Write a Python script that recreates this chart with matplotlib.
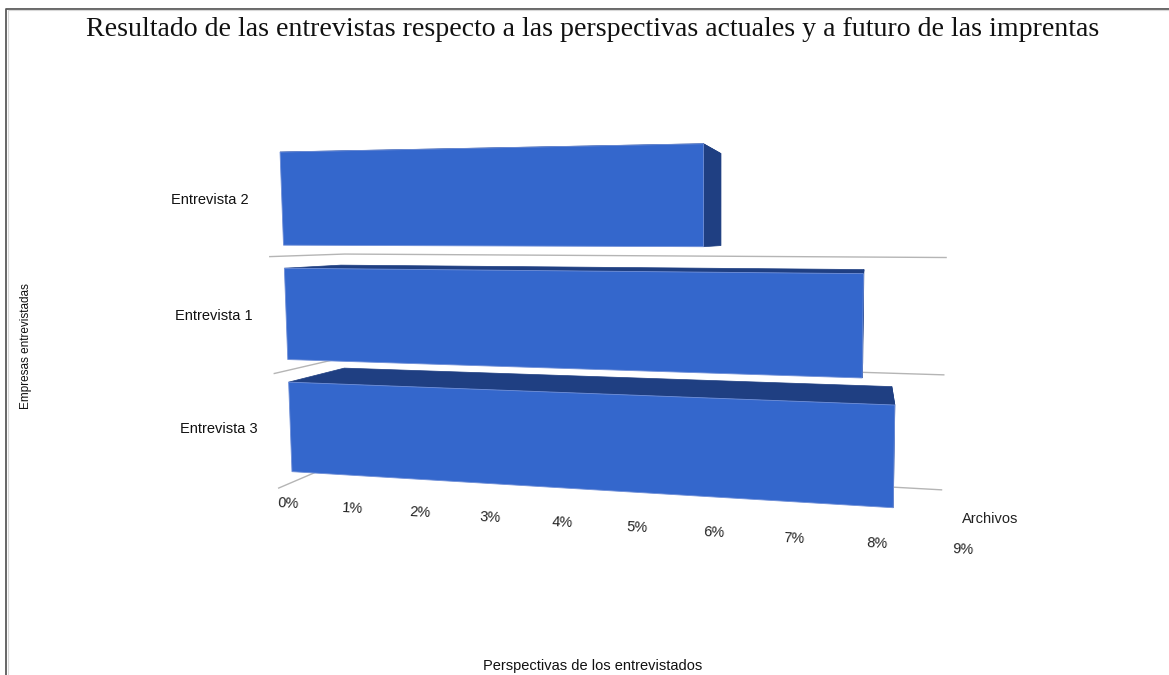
import matplotlib
matplotlib.use('Agg')
import matplotlib.pyplot as plt
import numpy as np

categories = ['Entrevista 3', 'Entrevista 1', 'Entrevista 2']
values = [8.4, 8.0, 6.0]
x_ticks = [0, 1, 2, 3, 4, 5, 6, 7, 8, 9]
x_tick_labels = ['0%', '1%', '2%', '3%', '4%', '5%', '6%', '7%', '8%', '9%']

title = 'Resultado de las entrevistas respecto a las perspectivas actuales y a futuro de las imprentas'

BAR_H = 0.8

# camera of the 3d view: (value, height, depth) -> pixel
P = np.array([
    [57.73878, -6.988223, 91.546555, 291.966306],
    [-3.574067, -115.634866, 24.92018, 471.664856],
    [-0.015498, -0.009739, 0.10553, 1.0],
])


def project(X, Y, Z):
    h = P @ np.array([X, Y, Z, 1.0])
    return h[0] / h[2], h[1] / h[2]


fig = plt.figure(figsize=(11.69, 6.75), dpi=100)
ax = fig.add_axes([0, 0, 1, 1])
ax.set_xlim(0, 1169)
ax.set_ylim(675, 0)
ax.axis('off')

# page frame
ax.plot([6, 6, 1169], [675, 8.5, 8.5], color='#5a5a5a', lw=1.3, zorder=1)
ax.plot([7.5, 7.5, 1169], [675, 10, 10], color='#d8d8d8', lw=0.8, zorder=1)

# floor lines
for r in range(len(categories)):
    line = [project(0, r - 0.095, -0.22), project(0, r - 0.095, 1.08), project(9.1, r - 0.095, 1.08)]
    ax.plot([a[0] for a in line], [a[1] for a in line], color='#b5b5b5', lw=1, zorder=2)

for r, v in enumerate(values):
    y0, y1 = r, r + BAR_H
    side = [project(v, y0, 0), project(v, y1, 0), project(v, y1, 1), project(v, y0, 1)]
    top = [project(0, y1, 0), project(v, y1, 0), project(v, y1, 1), project(0, y1, 1)]
    front = [project(0, y0, 0), project(0, y1, 0), project(v, y1, 0), project(v, y0, 0)]
    ax.fill(*zip(*side), color='#1f3f82', lw=0.5, zorder=3)
    ax.fill(*zip(*top), color='#1f3f82', lw=0.5, zorder=3)
    ax.fill(*zip(*front), facecolor='#3467cc', edgecolor='#6f8fd8', lw=0.6, zorder=4)

font = 'Liberation Sans'
for t, lab in zip(x_ticks, x_tick_labels):
    px, py = project(t, -0.2, -0.35)
    ax.text(px + 17, py, lab, ha='center', va='center', fontsize=10.5, family=font, color='#222222', rotation=-3)

for r, cat in enumerate(categories):
    px, py = project(0, r + 0.4, 0)
    ax.text(px - 33, py + 1.5, cat, ha='right', va='center', fontsize=10.5, family=font, color='#111111')

ax.text(990, 519, 'Archivos', ha='center', va='center', fontsize=10.5, family=font, color='#222222')
ax.text(593, 666, 'Perspectivas de los entrevistados', ha='center', va='center', fontsize=10.5, family=font, color='#111111')
ax.text(26, 346, 'Empresas entrevistadas', ha='center', va='center', rotation=90, fontsize=8.5, family=font, color='#111111')
ax.text(593, 29, title, ha='center', va='center', fontsize=20.1, family='Liberation Serif', color='#111111')

fig.savefig('out.png', dpi=100)
